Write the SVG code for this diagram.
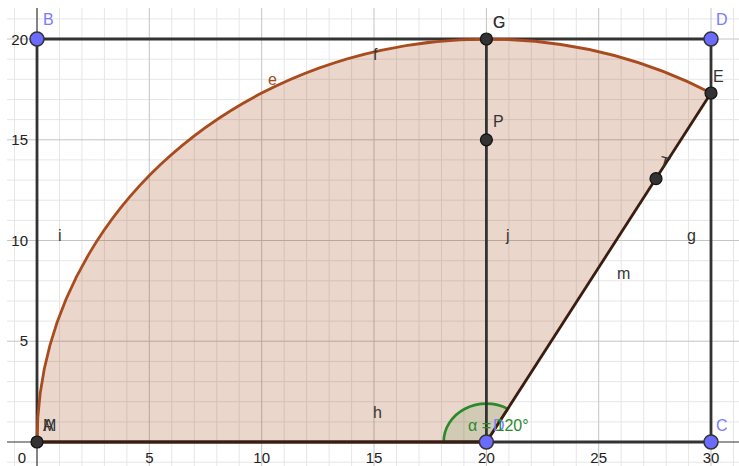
<svg xmlns="http://www.w3.org/2000/svg" width="739" height="466" viewBox="0 0 739 466">
<defs>
<style>
.minor{stroke:#e6e6e6;stroke-width:1}
.major{stroke:#c4c4c4;stroke-width:1}
.axis{stroke:#333;stroke-width:1.2}
.seg{stroke:#333;stroke-width:2.8;fill:none;stroke-linecap:round}
.tick{font-family:"Liberation Sans",Arial,sans-serif;font-size:15px;fill:#222}
.lbl{font-family:"Liberation Sans",Arial,sans-serif;font-size:16px;fill:#333}
.blbl{font-family:"Liberation Sans",Arial,sans-serif;font-size:16px;fill:#7b7bff}
.bpt{fill:#6b6bff;stroke:#333;stroke-width:1.5}
.dpt{fill:#333;stroke:#111;stroke-width:1.2}
</style>
</defs>
<rect x="0" y="0" width="739" height="466" fill="#fff"/>
<g id="grid">
<g class="minor">
<line x1="14.5" y1="8" x2="14.5" y2="466"/>
<line x1="59.5" y1="8" x2="59.5" y2="466"/><line x1="81.9" y1="8" x2="81.9" y2="466"/><line x1="104.4" y1="8" x2="104.4" y2="466"/><line x1="126.9" y1="8" x2="126.9" y2="466"/>
<line x1="171.8" y1="8" x2="171.8" y2="466"/><line x1="194.3" y1="8" x2="194.3" y2="466"/><line x1="216.8" y1="8" x2="216.8" y2="466"/><line x1="239.2" y1="8" x2="239.2" y2="466"/>
<line x1="284.2" y1="8" x2="284.2" y2="466"/><line x1="306.6" y1="8" x2="306.6" y2="466"/><line x1="329.1" y1="8" x2="329.1" y2="466"/><line x1="351.6" y1="8" x2="351.6" y2="466"/>
<line x1="396.5" y1="8" x2="396.5" y2="466"/><line x1="419" y1="8" x2="419" y2="466"/><line x1="441.5" y1="8" x2="441.5" y2="466"/><line x1="463.9" y1="8" x2="463.9" y2="466"/>
<line x1="508.9" y1="8" x2="508.9" y2="466"/><line x1="531.3" y1="8" x2="531.3" y2="466"/><line x1="553.8" y1="8" x2="553.8" y2="466"/><line x1="576.3" y1="8" x2="576.3" y2="466"/>
<line x1="621.2" y1="8" x2="621.2" y2="466"/><line x1="643.7" y1="8" x2="643.7" y2="466"/><line x1="666.2" y1="8" x2="666.2" y2="466"/><line x1="688.6" y1="8" x2="688.6" y2="466"/>
<line x1="733.5" y1="8" x2="733.5" y2="466"/>
<line x1="7" y1="462.2" x2="739" y2="462.2"/>
<line x1="7" y1="421.9" x2="739" y2="421.9"/><line x1="7" y1="401.7" x2="739" y2="401.7"/><line x1="7" y1="381.6" x2="739" y2="381.6"/><line x1="7" y1="361.4" x2="739" y2="361.4"/>
<line x1="7" y1="321.1" x2="739" y2="321.1"/><line x1="7" y1="301" x2="739" y2="301"/><line x1="7" y1="280.8" x2="739" y2="280.8"/><line x1="7" y1="260.7" x2="739" y2="260.7"/>
<line x1="7" y1="220.4" x2="739" y2="220.4"/><line x1="7" y1="200.2" x2="739" y2="200.2"/><line x1="7" y1="180.1" x2="739" y2="180.1"/><line x1="7" y1="159.9" x2="739" y2="159.9"/>
<line x1="7" y1="119.6" x2="739" y2="119.6"/><line x1="7" y1="99.5" x2="739" y2="99.5"/><line x1="7" y1="79.3" x2="739" y2="79.3"/><line x1="7" y1="59.2" x2="739" y2="59.2"/>
<line x1="7" y1="18.9" x2="739" y2="18.9"/>
</g>
<g class="major">
<line x1="149.3" y1="8" x2="149.3" y2="466"/><line x1="261.7" y1="8" x2="261.7" y2="466"/><line x1="374" y1="8" x2="374" y2="466"/><line x1="486.4" y1="8" x2="486.4" y2="466"/><line x1="598.7" y1="8" x2="598.7" y2="466"/><line x1="711" y1="8" x2="711" y2="466"/>
<line x1="7" y1="341.2" x2="739" y2="341.2"/><line x1="7" y1="240.5" x2="739" y2="240.5"/><line x1="7" y1="139.8" x2="739" y2="139.8"/><line x1="7" y1="39" x2="739" y2="39"/>
</g>
</g>
<g id="sector">
<path d="M486.4 442 L37 442 A449.4 403 0 0 1 711 93 Z" fill="#993300" fill-opacity="0.2"/>
</g>
<g id="angle">
<path d="M486.4 442 L443.7 442 A42.7 38.3 0 0 1 507.8 408.8 Z" fill="#1a7f1a" fill-opacity="0.12" stroke="#2a8a2a" stroke-width="2.6"/>
</g>
<g id="axes">
<line class="axis" x1="7" y1="442" x2="739" y2="442"/>
<line class="axis" x1="37" y1="8" x2="37" y2="466"/>
<text class="tick" x="22" y="463" text-anchor="middle">0</text>
<text class="tick" x="149.3" y="463" text-anchor="middle">5</text>
<text class="tick" x="261.7" y="463" text-anchor="middle">10</text>
<text class="tick" x="374" y="463" text-anchor="middle">15</text>
<text class="tick" x="486.4" y="463" text-anchor="middle">20</text>
<text class="tick" x="598.7" y="463" text-anchor="middle">25</text>
<text class="tick" x="711" y="463" text-anchor="middle">30</text>
<text class="tick" x="28" y="346" text-anchor="end">5</text>
<text class="tick" x="28" y="245.5" text-anchor="end">10</text>
<text class="tick" x="28" y="145" text-anchor="end">15</text>
<text class="tick" x="28" y="44.5" text-anchor="end">20</text>
</g>
<g id="connectors">
<line id="f" class="seg" x1="37" y1="39" x2="711" y2="39"/>
<line id="i" class="seg" x1="37" y1="39" x2="37" y2="442"/>
<line id="g" class="seg" x1="711" y1="39" x2="711" y2="442"/>
<line id="j" class="seg" x1="486.4" y1="39" x2="486.4" y2="442"/>
<line id="h" class="seg" x1="37" y1="442" x2="711" y2="442"/>
<line x1="37" y1="442" x2="486.4" y2="442" stroke="#3a1d10" stroke-width="2.8"/>
<path id="e" d="M37 442 A449.4 403 0 0 1 711 93" fill="none" stroke="#a84b1e" stroke-width="2.8"/>
<line id="m" x1="486.4" y1="442" x2="711" y2="93" stroke="#3a1d10" stroke-width="2.8"/>
<text class="lbl" x="268" y="85" fill="#a84b1e" style="fill:#a84b1e">e</text>
<text class="lbl" x="373" y="60">f</text>
<text class="lbl" x="58" y="241">i</text>
<text class="lbl" x="506" y="241">j</text>
<text class="lbl" x="687" y="241">g</text>
<text class="lbl" x="617" y="279">m</text>
<text class="lbl" x="373" y="418">h</text>
</g>
<g id="angle-label">
<text class="blbl" x="493" y="431">D</text>
<text x="468" y="431" font-family="Liberation Sans,Arial,sans-serif" font-size="16" fill="#2a8a2a">α = 120°</text>
</g>
<g id="node-B"><circle class="bpt" cx="37" cy="39" r="7"/><text class="blbl" x="43" y="25">B</text></g>
<g id="node-D"><circle class="bpt" cx="711" cy="39" r="7"/><text class="blbl" x="716" y="25">D</text></g>
<g id="node-C"><circle class="bpt" cx="711" cy="442" r="7"/><text class="blbl" x="716" y="431">C</text></g>
<g id="node-D1"><circle class="bpt" cx="486.4" cy="442" r="7"/></g>
<g id="node-A"><circle class="dpt" cx="37" cy="442" r="6"/><text class="lbl" x="43" y="431">A</text><text class="lbl" x="43" y="431">M</text></g>
<g id="node-G"><circle class="dpt" cx="486.4" cy="39" r="6"/><text class="lbl" x="493" y="28">G</text><text class="lbl" x="493" y="28">C</text></g>
<g id="node-P"><circle class="dpt" cx="486.4" cy="139.8" r="6"/><text class="lbl" x="493" y="127">P</text></g>
<g id="node-E"><circle class="dpt" cx="711" cy="93" r="6"/><text class="lbl" x="713" y="82">E</text></g>
<g id="node-T"><circle class="dpt" cx="656" cy="178.7" r="6"/><text class="lbl" x="660" y="168" transform="rotate(15 665 162)">T</text></g>
</svg>
